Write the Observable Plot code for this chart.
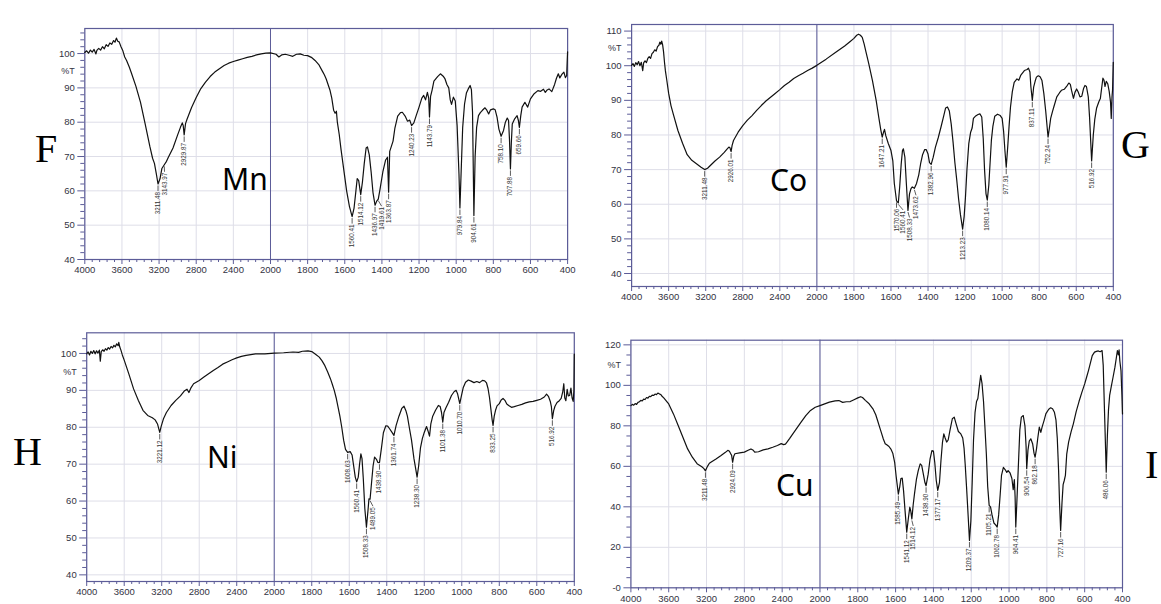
<!DOCTYPE html>
<html><head><meta charset="utf-8">
<script src="https://cdn.jsdelivr.net/npm/d3@7"></script>
<script src="https://cdn.jsdelivr.net/npm/@observablehq/plot@0.6"></script>
<style>
body{margin:0;background:#fff;}
#root{position:relative;width:1161px;height:604px;overflow:hidden;background:#fff;}
#root svg.plotsvg{position:absolute;}
#overlay{position:absolute;left:0;top:0;pointer-events:none;}
</style></head><body><div id="root"></div>
<script>
// ---------- data (wavenumber cm-1, %T) ----------
const mnSpectrum = [[4000,100.3],[3980,100.8],[3960,100.1],[3940,101.0],[3920,100.4],[3900,101.2],[3880,99.9],[3870,100.9],[3850,101.5],[3830,101.0],[3810,102.0],[3790,101.4],[3770,102.6],[3750,102.1],[3730,103.1],[3710,102.7],[3690,103.8],[3675,103.3],[3660,104.5],[3645,103.6],[3630,103.4],[3610,102.0],[3590,100.8],[3570,99.0],[3550,98.0],[3520,96.0],[3500,94.5],[3450,90.5],[3400,85.8],[3350,79.5],[3300,73.0],[3270,69.5],[3250,68.0],[3230,65.0],[3211.48,62.0],[3190,63.5],[3170,66.5],[3143.97,67.6],[3120,68.6],[3100,69.8],[3050,72.5],[3000,76.3],[2970,78.5],[2950,79.8],[2940,79.0],[2929.87,76.3],[2915,79.6],[2900,80.8],[2850,84.3],[2800,87.2],[2750,89.8],[2700,91.7],[2650,93.3],[2600,94.6],[2550,95.6],[2500,96.5],[2450,97.2],[2400,97.7],[2350,98.1],[2300,98.5],[2250,98.9],[2200,99.2],[2150,99.6],[2100,99.9],[2050,100.1],[2000,100.2],[1970,99.8],[1955,99.0],[1940,99.6],[1920,99.8],[1900,99.5],[1880,99.2],[1860,99.8],[1840,99.9],[1820,99.5],[1800,99.4],[1780,98.9],[1760,98.0],[1740,96.8],[1720,94.8],[1710,93.8],[1700,92.6],[1690,91.0],[1680,89.4],[1670,87.0],[1660,83.5],[1652,82.6],[1645,83.2],[1640,80.0],[1630,76.5],[1620,72.0],[1610,68.0],[1600,64.0],[1590,60.0],[1575,55.5],[1560.41,52.5],[1550,55.0],[1540,60.0],[1533,63.6],[1525,63.0],[1514.12,58.9],[1505,62.5],[1495,68.0],[1485,72.5],[1478,72.8],[1468,70.5],[1458,65.5],[1448,59.5],[1436.97,55.8],[1428,57.0],[1419.61,57.6],[1410,60.5],[1395,65.5],[1380,69.0],[1370,69.8],[1363.87,59.6],[1358,71.5],[1350,72.8],[1340,74.5],[1330,78.3],[1315,81.8],[1300,82.8],[1290,82.9],[1275,81.8],[1262,80.3],[1250,80.6],[1240.23,79.0],[1228,79.8],[1215,82.0],[1200,84.4],[1185,87.0],[1175,87.8],[1165,86.5],[1155,88.7],[1148,87.0],[1143.79,81.5],[1138,87.5],[1130,89.3],[1120,92.0],[1100,93.3],[1085,94.1],[1070,93.4],[1060,92.6],[1050,91.0],[1040,90.0],[1032,86.5],[1025,85.2],[1015,87.3],[1005,86.2],[995,79.0],[985,65.0],[979.84,55.0],[973,66.0],[965,78.5],[955,85.3],[945,88.5],[935,89.7],[925,90.7],[918,89.5],[912,83.0],[904.61,52.8],[898,70.0],[890,78.5],[880,81.9],[870,82.8],[860,83.4],[845,84.2],[835,83.5],[825,82.4],[815,83.6],[800,83.9],[790,83.6],[780,81.5],[770,78.0],[758.10,75.9],[745,77.6],[735,80.0],[725,81.2],[718,80.5],[713,75.0],[707.88,66.4],[703,74.0],[698,79.5],[685,81.0],[672,81.9],[665,80.5],[659.66,78.5],[652,82.0],[645,84.4],[630,85.8],[615,84.4],[600,86.8],[580,88.3],[560,89.2],[545,89.0],[530,89.6],[520,88.7],[510,89.4],[500,89.7],[485,88.9],[470,91.0],[460,92.8],[450,94.1],[442,92.9],[430,94.0],[420,94.6],[412,93.0],[405,93.6],[402,98.0],[400,100.5]];
const coSpectrum = [[4000,100.1],[3985,100.6],[3970,99.8],[3955,100.9],[3940,100.3],[3925,101.2],[3910,100.0],[3895,101.0],[3880,98.6],[3870,100.8],[3855,101.4],[3840,100.9],[3825,102.1],[3810,102.6],[3795,102.1],[3780,103.5],[3765,103.9],[3750,104.6],[3735,104.2],[3720,105.5],[3705,105.9],[3695,106.8],[3685,106.2],[3675,107.1],[3665,106.0],[3655,104.0],[3645,101.0],[3635,98.5],[3620,95.8],[3600,92.0],[3575,88.5],[3550,86.0],[3500,81.3],[3450,77.6],[3400,74.3],[3350,72.7],[3300,71.7],[3250,70.7],[3211.48,70.0],[3180,70.4],[3150,71.2],[3100,72.5],[3050,73.6],[3000,75.0],[2970,75.9],[2950,76.5],[2938,76.3],[2926.01,75.2],[2915,77.0],[2900,78.4],[2850,80.8],[2800,82.7],[2750,84.3],[2700,85.6],[2650,87.1],[2600,88.5],[2550,89.8],[2500,90.9],[2450,92.0],[2400,93.1],[2350,94.3],[2300,95.2],[2250,96.3],[2200,97.1],[2150,97.8],[2100,98.6],[2050,99.3],[2000,100.1],[1950,101.9],[1900,103.8],[1850,105.7],[1820,107.0],[1800,107.9],[1785,108.8],[1775,109.1],[1765,108.8],[1755,108.2],[1745,106.3],[1735,104.0],[1720,100.6],[1700,95.7],[1680,90.0],[1665,84.8],[1655,81.5],[1647.21,79.4],[1640,80.8],[1635,81.6],[1628,79.8],[1615,77.6],[1600,75.5],[1590,72.5],[1582,66.0],[1570.06,61.0],[1560.41,60.4],[1553,65.0],[1545,71.5],[1538,75.5],[1533,76.0],[1525,73.6],[1517,66.0],[1508.33,58.2],[1500,63.0],[1492,64.5],[1485,65.0],[1473.62,64.6],[1462,66.0],[1450,68.5],[1440,71.7],[1430,74.2],[1418,75.8],[1410,75.8],[1400,74.5],[1392,72.0],[1382.96,71.5],[1372,73.6],[1360,76.5],[1345,79.2],[1330,82.3],[1315,85.6],[1305,87.8],[1295,88.1],[1285,86.9],[1275,83.2],[1265,78.0],[1255,72.0],[1245,67.0],[1235,61.5],[1225,57.0],[1213.23,52.8],[1205,56.5],[1198,62.0],[1190,70.0],[1180,77.5],[1170,80.8],[1162,82.0],[1155,84.8],[1145,85.4],[1130,85.9],[1120,86.1],[1110,85.2],[1102,79.0],[1095,70.0],[1087,63.0],[1080.14,61.2],[1072,65.5],[1065,72.0],[1058,78.5],[1050,82.5],[1040,85.4],[1025,86.0],[1010,85.6],[1000,84.8],[992,81.0],[985,75.5],[977.91,70.7],[970,76.5],[962,83.0],[955,88.0],[945,92.5],[935,95.2],[920,96.2],[910,95.8],[900,97.2],[880,98.6],[865,98.9],[858,99.3],[850,98.2],[845,94.0],[837.11,90.0],[830,93.8],[822,95.5],[815,96.7],[805,97.1],[795,96.8],[785,95.7],[775,92.0],[765,87.0],[752.24,79.4],[745,82.0],[738,84.8],[728,86.8],[720,88.3],[705,91.0],[690,92.2],[680,92.9],[665,93.2],[650,94.2],[640,95.0],[632,94.6],[625,92.8],[615,90.6],[607,92.3],[598,93.3],[590,92.5],[580,91.0],[570,91.2],[560,93.5],[553,94.3],[545,94.0],[535,91.0],[528,85.0],[516.92,72.5],[508,80.0],[500,84.5],[490,87.8],[478,89.6],[470,90.5],[463,93.5],[456,96.4],[450,95.8],[445,94.0],[438,95.5],[430,94.8],[422,92.5],[415,89.5],[411,84.8],[407,91.0],[404,93.0],[400,101.0]];
const niSpectrum = [[4000,99.9],[3985,100.4],[3970,99.6],[3955,100.6],[3940,100.0],[3925,100.8],[3910,99.9],[3895,100.7],[3880,100.1],[3865,100.9],[3855,97.9],[3845,100.5],[3830,101.0],[3815,100.6],[3800,101.3],[3785,100.9],[3770,101.6],[3755,101.2],[3740,101.9],[3725,101.5],[3710,102.2],[3695,101.8],[3680,102.6],[3665,102.1],[3658,103.0],[3648,101.8],[3635,100.9],[3620,99.6],[3600,98.2],[3575,96.3],[3550,94.4],[3500,90.4],[3450,87.3],[3400,84.6],[3350,83.2],[3300,82.6],[3270,82.0],[3245,80.9],[3221.12,78.6],[3205,80.3],[3180,82.4],[3150,84.0],[3100,85.9],[3050,87.3],[3000,88.5],[2960,89.8],[2930,90.3],[2910,89.4],[2890,90.6],[2860,91.8],[2800,92.7],[2750,93.6],[2700,94.5],[2650,95.4],[2600,96.2],[2550,97.1],[2500,97.7],[2450,98.3],[2400,98.8],[2350,99.2],[2300,99.5],[2200,99.9],[2100,99.9],[2000,100.1],[1950,100.2],[1900,100.4],[1870,100.3],[1850,100.6],[1820,100.7],[1800,100.5],[1780,99.8],[1760,99.0],[1745,98.0],[1730,96.7],[1715,95.0],[1700,93.1],[1690,91.6],[1680,90.0],[1670,88.0],[1660,85.5],[1650,83.0],[1640,80.0],[1630,76.5],[1620,74.0],[1608.63,73.2],[1595,73.4],[1585,72.5],[1575,69.0],[1568,66.5],[1560.41,65.2],[1552,66.5],[1545,70.0],[1538,72.8],[1532,71.5],[1525,66.0],[1517,58.0],[1508.33,52.9],[1500,57.5],[1495,60.6],[1489.05,60.5],[1482,64.5],[1473,69.5],[1465,71.9],[1455,71.3],[1448,70.5],[1438.90,70.4],[1428,74.5],[1418,78.5],[1405,80.4],[1395,80.3],[1385,79.6],[1372,78.6],[1361.74,77.8],[1350,80.5],[1335,83.0],[1320,85.1],[1308,85.7],[1298,84.5],[1290,83.0],[1280,80.0],[1268,76.5],[1255,71.5],[1245,68.5],[1238.30,66.5],[1230,69.5],[1220,74.5],[1210,77.0],[1200,78.6],[1188,80.2],[1180,79.0],[1172,77.6],[1165,80.9],[1155,83.0],[1140,84.6],[1125,85.9],[1115,85.6],[1108,84.0],[1101.38,81.4],[1095,84.0],[1085,85.2],[1070,86.8],[1055,88.6],[1040,89.7],[1030,90.0],[1022,89.0],[1010.70,86.4],[1002,88.5],[992,90.8],[980,92.2],[965,92.8],[950,92.5],[935,92.1],[920,92.4],[905,92.1],[890,92.7],[878,92.6],[868,92.0],[860,90.5],[852,88.0],[845,85.0],[838,82.0],[833.25,80.5],[827,83.0],[820,84.6],[812,85.8],[800,86.4],[790,87.4],[780,87.8],[770,87.3],[760,86.3],[750,85.9],[735,85.4],[720,85.6],[700,85.9],[680,86.2],[660,86.6],[640,86.9],[620,87.0],[600,87.3],[580,87.6],[560,88.2],[548,89.0],[538,88.4],[528,87.0],[522,85.5],[516.92,82.3],[510,84.5],[503,85.7],[492,86.7],[480,87.2],[470,87.8],[462,89.5],[456,91.8],[451,88.0],[445,87.2],[438,90.3],[432,88.5],[425,88.6],[418,90.6],[412,88.0],[406,87.0],[402,90.0],[400,99.8]];
const cuSpectrum = [[4000,90.0],[3985,90.6],[3970,90.2],[3955,91.0],[3940,90.6],[3925,91.6],[3910,91.9],[3895,92.6],[3880,92.3],[3865,93.2],[3850,93.0],[3835,94.0],[3820,93.7],[3805,94.6],[3790,94.4],[3775,95.2],[3760,95.0],[3745,95.7],[3730,95.4],[3715,96.2],[3700,95.8],[3685,95.5],[3670,94.6],[3650,93.7],[3620,92.0],[3600,90.8],[3550,85.9],[3500,80.2],[3450,74.4],[3400,68.6],[3350,64.5],[3300,61.3],[3250,59.8],[3230,59.0],[3211.48,57.8],[3190,60.0],[3170,61.5],[3150,62.1],[3100,63.6],[3050,65.2],[3000,66.9],[2975,67.9],[2960,67.6],[2945,66.3],[2935,65.5],[2924.09,62.0],[2912,65.0],[2900,66.2],[2850,66.6],[2800,67.0],[2760,67.9],[2730,68.6],[2710,68.1],[2690,67.0],[2650,67.2],[2600,68.1],[2550,68.6],[2500,69.4],[2450,70.3],[2410,71.2],[2385,70.7],[2365,71.0],[2345,72.2],[2320,73.8],[2300,75.2],[2250,78.5],[2200,81.8],[2150,85.0],[2100,87.6],[2050,89.2],[2000,90.0],[1950,91.7],[1920,92.3],[1900,92.5],[1880,91.6],[1860,91.9],[1840,92.0],[1820,92.9],[1800,93.8],[1785,94.4],[1775,94.0],[1760,92.6],[1740,90.9],[1720,88.4],[1705,85.5],[1695,82.5],[1685,79.5],[1675,76.5],[1665,73.5],[1655,71.2],[1645,70.5],[1635,69.8],[1625,68.5],[1615,66.5],[1605,62.0],[1597,55.0],[1585.49,46.3],[1578,50.0],[1572,54.0],[1565,54.2],[1558,48.0],[1550,38.0],[1541.12,27.5],[1533,34.0],[1525,39.8],[1520,38.0],[1514.12,34.0],[1507,41.0],[1500,46.5],[1490,53.5],[1480,58.0],[1470,61.2],[1462,60.5],[1455,57.0],[1445,52.0],[1438.90,50.4],[1428,56.0],[1418,63.5],[1408,67.8],[1400,67.5],[1393,62.0],[1385,53.0],[1377.17,48.1],[1368,52.0],[1360,63.0],[1352,72.0],[1345,76.0],[1338,74.0],[1330,72.0],[1322,73.0],[1312,78.0],[1300,83.5],[1290,84.3],[1280,81.0],[1268,77.2],[1255,76.0],[1245,74.0],[1238,69.0],[1232,61.0],[1225,50.0],[1216,35.0],[1209.37,23.4],[1202,33.0],[1195,52.0],[1188,73.0],[1180,86.5],[1172,92.0],[1165,93.5],[1158,99.0],[1150,104.9],[1143,101.0],[1135,92.0],[1128,80.0],[1120,66.0],[1113,50.0],[1105.21,40.7],[1098,40.0],[1090,36.0],[1080,32.0],[1070,31.0],[1062.78,30.0],[1055,36.0],[1047,46.0],[1040,55.5],[1030,59.5],[1020,58.3],[1012,57.0],[1005,57.9],[995,56.8],[985,54.0],[978,48.5],[972,53.5],[968,45.0],[964.41,30.0],[958,44.0],[950,62.0],[943,78.0],[935,84.3],[925,85.1],[916,80.0],[910,70.0],[906.54,58.8],[900,68.0],[893,72.5],[885,73.6],[875,71.0],[868,66.5],[862.18,64.5],[855,68.5],[848,74.0],[840,79.4],[832,76.8],[825,79.5],[815,82.6],[805,86.0],[790,88.2],[780,88.9],[770,88.4],[760,86.7],[752,83.0],[745,74.0],[738,58.0],[733,42.0],[727.16,28.3],[720,42.0],[714,51.0],[708,53.0],[702,55.5],[695,66.0],[685,72.0],[672,77.0],[660,81.0],[645,87.0],[630,92.0],[615,96.5],[600,100.7],[590,104.0],[580,107.3],[570,111.0],[560,114.7],[548,116.4],[538,116.8],[528,117.0],[518,116.6],[508,117.2],[502,110.0],[496,90.0],[486.06,57.1],[480,75.0],[474,88.0],[468,95.0],[460,99.1],[450,104.0],[440,109.0],[432,114.0],[427,117.2],[422,115.0],[418,117.5],[414,112.0],[408,107.3],[403,95.0],[400,85.9]];

const mnPeaks = [3211.48,3143.97,2929.87,1560.41,1514.12,1436.97,1419.61,1363.87,1240.23,1143.79,979.84,904.61,758.10,707.88,659.66];
const coPeaks = [3211.48,2926.01,1647.21,1570.06,1560.41,1508.33,1473.62,1382.96,1213.23,1080.14,977.91,837.11,752.24,516.92];
const niPeaks = [3221.12,1608.63,1560.41,1508.33,1489.05,1438.90,1361.74,1238.30,1101.38,1010.70,833.25,516.92];
const cuPeaks = [3211.48,2924.09,1585.49,1541.12,1514.12,1438.90,1377.17,1209.37,1105.21,1062.78,964.41,906.54,862.18,727.16,486.06];

const xTicks = [4000,3600,3200,2800,2400,2000,1800,1600,1400,1200,1000,800,600,400];
const yTicksF = [40,50,60,70,80,90,100];
const yTicksG = [40,50,60,70,80,90,100,110];
const yTicksH = [40,50,60,70,80,90,100];
const yTicksI = [0,20,40,60,80,100,120];
const yTickLabelsI = ["-0","20","40","60","80","100","120"];
const metalNames = ["Mn","Co","Ni","Cu"];
const panelLetters = ["F","G","H","I"];
const yUnitLabel = "%T";

// ---------- styling / layout ----------
const frameColor = "#5c5c98";
const gridColor = "#dedee8";
const textColor = "#33333f";
const fontFam = "'Liberation Sans', Arial, sans-serif";

// The instrument's abscissa is split: 4000-2000 cm-1 at half the scale of 2000-400 cm-1.
// u() maps a wavenumber to evenly spaced tick units (0..13).
const u = w => w >= 2000 ? (4000 - w) / 400 : 5 + (2000 - w) / 200;

const panels = [
  {data: mnSpectrum, peaks: mnPeaks, yTicks: yTicksF, yLabels: null, yMinor: 2, yDomain: [40,107.3],
   left: 0, top: 0, width: 580, height: 300, xRange: [84.3,567.1], mt: 28, mb: 41},
  {data: coSpectrum, peaks: coPeaks, yTicks: yTicksG, yLabels: null, yMinor: 2, yDomain: [36.25,111.9],
   left: 580, top: 0, width: 581, height: 304, xRange: [51.1,532.8], mt: 24, mb: 18},
  {data: niSpectrum, peaks: niPeaks, yTicks: yTicksH, yLabels: null, yMinor: 2, yDomain: [38.2,105.6],
   left: 0, top: 300, width: 580, height: 304, xRange: [86.2,573.8], mt: 32.3, mb: 23},
  {data: cuSpectrum, peaks: cuPeaks, yTicks: yTicksI, yLabels: yTickLabelsI, yMinor: 5, yDomain: [0,122.3],
   left: 580, top: 300, width: 581, height: 304, xRange: [50.4,542], mt: 39.7, mb: 16.7}
];

const xMinor = [...d3.range(4000, 2000, -80), ...d3.range(2000, 399, -40)].filter(v => !xTicks.includes(v));

function valueAt(data, w) {
  for (let i = 0; i < data.length - 1; i++) {
    const [w0,t0] = data[i], [w1,t1] = data[i+1];
    if ((w0 - w) * (w1 - w) <= 0) return w0 === w1 ? t0 : t0 + (t1 - t0) * (w - w0) / (w1 - w0);
  }
  return data[data.length-1][1];
}

const root = document.getElementById("root");

panels.forEach(p => {
  const xs = d3.scaleLinear().domain([0, 13]).range(p.xRange);
  const ys = d3.scaleLinear().domain(p.yDomain).range([p.height - p.mb, p.mt]);
  const items = p.peaks.map(w => ({w, label: w.toFixed(2), px: xs(u(w)), py: ys(valueAt(p.data, w))}))
    .sort((a, b) => a.px - b.px);
  let last = -Infinity;
  for (const it of items) { it.lx = Math.max(it.px, last + 6.5); last = it.lx; }
  items.forEach(it => {
    it.u0 = u(it.w);
    it.ul = xs.invert(it.lx);
    it.y1 = ys.invert(it.py + 1.5);
    it.y2 = ys.invert(it.py + 7);
    it.yt = ys.invert(it.py + 8);
  });
  const yMinorTicks = d3.range(Math.ceil(p.yDomain[0] / p.yMinor) * p.yMinor, p.yDomain[1], p.yMinor)
    .filter(v => !p.yTicks.includes(v));
  const tMid = (p.yTicks[p.yTicks.length-1] + p.yTicks[p.yTicks.length-2]) / 2;
  const uTicks = xTicks.map(u);

  const plot = Plot.plot({
    width: p.width, height: p.height,
    marginLeft: p.xRange[0], marginRight: p.width - p.xRange[1],
    marginTop: p.mt, marginBottom: p.mb,
    x: {domain: [0, 13]},
    y: {domain: p.yDomain},
    style: {fontFamily: fontFam, fontSize: "9.5px", background: "transparent", color: textColor, overflow: "visible"},
    marks: [
      Plot.gridX(uTicks, {stroke: gridColor, strokeOpacity: 1}),
      Plot.gridY(p.yTicks, {stroke: gridColor, strokeOpacity: 1}),
      Plot.ruleX([u(2000)], {stroke: frameColor, strokeWidth: 1}),
      Plot.frame({stroke: frameColor, strokeWidth: 1.2}),
      Plot.axisX(uTicks, {anchor: "bottom", tickSize: 5, tickPadding: 2, stroke: frameColor, fill: textColor, label: null, fontSize: 9.5,
        tickFormat: v => String(xTicks[uTicks.indexOf(v)])}),
      Plot.axisX(xMinor.map(u), {anchor: "bottom", tickSize: 3, stroke: frameColor, label: null, tickFormat: () => ""}),
      Plot.axisY(p.yTicks, {anchor: "left", tickSize: 7, tickPadding: 3, stroke: frameColor, fill: textColor, label: null, fontSize: 9.5,
        tickFormat: d => p.yLabels ? p.yLabels[p.yTicks.indexOf(d)] : String(d)}),
      Plot.axisY(yMinorTicks, {anchor: "left", tickSize: 4, stroke: frameColor, label: null, tickFormat: () => ""}),
      Plot.text([{t: yUnitLabel, y: tMid}], {frameAnchor: "left", y: "y", text: "t", dx: -10, textAnchor: "end", fill: textColor, fontSize: 9}),
      Plot.line(p.data, {x: d => u(d[0]), y: d => d[1], stroke: "#111", strokeWidth: 1.2}),
      Plot.link(items, {x1: "u0", y1: "y1", x2: "ul", y2: "y2", stroke: "#333", strokeWidth: 0.8}),
      Plot.text(items, {x: "ul", y: "yt", text: "label", rotate: -90, textAnchor: "end", fontSize: 6.3, fill: "#333", fontFamily: fontFam})
    ]
  });
  plot.classList.add("plotsvg");
  plot.style.left = p.left + "px";
  plot.style.top = p.top + "px";
  root.appendChild(plot);
});

// overlay with panel letters and metal names
const ov = d3.select(root).append("svg").attr("id", "overlay").attr("width", 1161).attr("height", 604);
const letterPos = [[35,162],[1121,158],[13,465],[1145,478]];
const metalPos = [[222,190],[770,191],[207,468],[776,496]];
panelLetters.forEach((l, i) => ov.append("text").attr("x", letterPos[i][0]).attr("y", letterPos[i][1])
  .attr("font-family", "'Liberation Serif', 'Times New Roman', serif").attr("font-size", 40).attr("fill", "#000").text(l));
metalNames.forEach((m, i) => ov.append("text").attr("x", metalPos[i][0]).attr("y", metalPos[i][1])
  .attr("font-family", "'Noto Sans', sans-serif").attr("font-size", 30).attr("fill", "#000").text(m));
</script></body></html>
